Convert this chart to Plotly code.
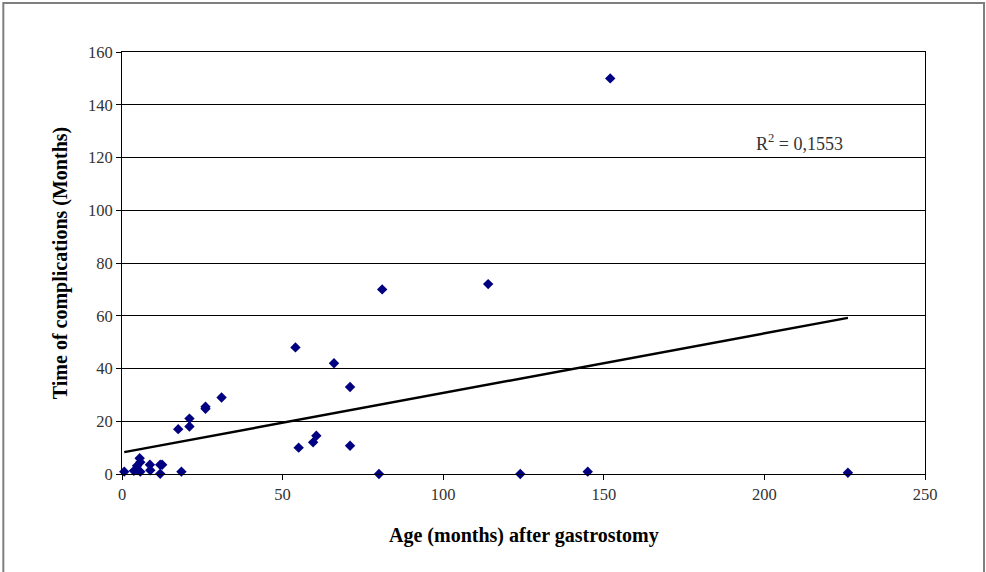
import plotly.graph_objects as go

# Data
age_months = [152, 81, 114, 54, 66, 71, 31, 26, 26, 21, 21, 17.5,
              55, 60.5, 59.5, 71, 80, 124, 145, 226, 18.5,
              0.7, 3.7, 4.7, 5.5, 5.7, 5.7, 4.8, 8.7, 8.8, 11.9, 12.5, 11.9]
complication_months = [150, 70, 72, 48, 42, 33, 29, 25.5, 24.7, 21, 18, 17,
                       10, 14.5, 12, 10.7, 0, 0, 0.9, 0.5, 0.9,
                       0.9, 1.2, 3.1, 6, 4.5, 0.9, 1.6, 3.5, 1.4, 3.5, 3.5, 0.1]
trend_x = [0.7, 226]
trend_y = [8.3, 59.2]
r2_label = "R<sup>2</sup> = 0,1553"
x_ticks = [0, 50, 100, 150, 200, 250]
y_ticks = [0, 20, 40, 60, 80, 100, 120, 140, 160]

FONT = "Liberation Serif"

fig = go.Figure()
fig.add_trace(go.Scatter(
    x=age_months, y=complication_months, mode="markers",
    marker=dict(symbol="diamond", size=8, color="#000080"),
    showlegend=False, cliponaxis=False))
fig.add_trace(go.Scatter(
    x=trend_x, y=trend_y, mode="lines",
    line=dict(color="black", width=2.5), showlegend=False))

fig.update_layout(
    width=986, height=572,
    margin=dict(l=122, r=61, t=52, b=98),
    paper_bgcolor="white", plot_bgcolor="white",
    font=dict(family=FONT, size=16, color="black"),
    xaxis=dict(range=[0, 250], tickvals=x_ticks, showgrid=False, zeroline=False,
               showline=True, linecolor="black", linewidth=1, mirror=True,
               ticks="outside", ticklen=5, tickcolor="black",
               tickfont=dict(family=FONT, size=16.5, color="#333")),
    yaxis=dict(range=[0, 160], tickvals=y_ticks, showgrid=True, gridcolor="black",
               gridwidth=1, zeroline=False, showline=True, linecolor="black",
               linewidth=1, mirror=True, ticks="outside", ticklen=5,
               tickcolor="black", tickfont=dict(family=FONT, size=16.5, color="#333")),
    annotations=[
        dict(x=211, y=125.5, xref="x", yref="y", text=r2_label, showarrow=False,
             font=dict(family=FONT, size=18, color="#333")),
        dict(x=0.5, y=-0.145, xref="paper", yref="paper", yanchor="middle",
             text="<b>Age (months) after gastrostomy</b>", showarrow=False,
             font=dict(family=FONT, size=20)),
        dict(x=-0.077, y=0.5, xref="paper", yref="paper", xanchor="center",
             text="<b>Time of complications (Months)</b>", showarrow=False,
             textangle=-90, font=dict(family=FONT, size=20)),
    ],
    shapes=[dict(type="rect", xref="paper", yref="paper",
                 x0=-0.1478, x1=1.0735, y0=-0.25, y1=1.116,
                 line=dict(color="#7f7f7f", width=2))],
)

fig.write_html("out.html", config={"displayModeBar": False},
               post_script="document.body.style.margin='0';document.body.style.overflow='hidden';")
